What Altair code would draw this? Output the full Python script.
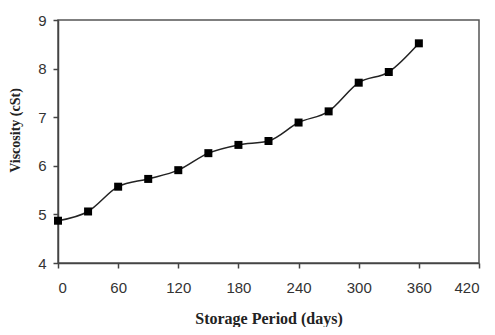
import altair as alt
import pandas as pd

days = [0, 30, 60, 90, 120, 150, 180, 210, 240, 270, 300, 330, 360]
viscosity = [4.87, 5.06, 5.57, 5.73, 5.91, 6.26, 6.43, 6.51, 6.89, 7.12, 7.71, 7.93, 8.52]
x_ticks = [0, 60, 120, 180, 240, 300, 360, 420]
y_ticks = [4, 5, 6, 7, 8, 9]

df = pd.DataFrame({"days": days, "viscosity": viscosity})

x = alt.X("days:Q", scale=alt.Scale(domain=[0, 420], nice=False),
          axis=alt.Axis(values=x_ticks, title="Storage Period (days)", grid=False,
                        labelPadding=12, titleY=60, titleBaseline="alphabetic",
                        titleFontSize=16))
y = alt.Y("viscosity:Q", scale=alt.Scale(domain=[4, 9], nice=False, zero=False),
          axis=alt.Axis(values=y_ticks, title="Viscosity (cSt)", grid=False,
                        labelPadding=7, titleX=-43, titleY=110,
                        titleBaseline="middle", titleAlign="center",
                        titleFontSize=14))

line = alt.Chart(df).mark_line(color="#222", strokeWidth=1.5, interpolate="monotone").encode(x=x, y=y)
pts = alt.Chart(df).mark_point(shape="square", filled=True, color="#000", size=64, opacity=1).encode(x=x, y=y)

chart = (line + pts).properties(
    width=421, height=243,
    autosize=alt.AutoSizeParams(type="none"),
    padding={"left": 50, "top": 12, "right": 8, "bottom": 64},
).configure_view(stroke="#555", strokeWidth=1.5).configure_axis(
    domainColor="#444", domainWidth=1.5, tickColor="#444", tickWidth=1.5, tickSize=5,
    labelFont="Liberation Sans", labelFontSize=15, labelColor="#333",
    titleFont="Liberation Serif", titleFontWeight="bold", titleColor="#222",
)

chart.save("out.html", embed_options={"renderer": "svg", "actions": False})
